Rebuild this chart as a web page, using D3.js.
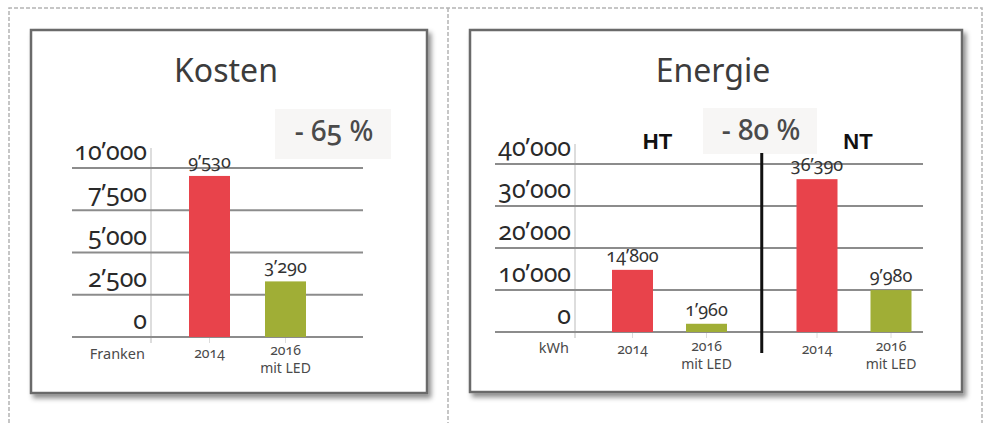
<!DOCTYPE html>
<html><head><meta charset="utf-8">
<script src="https://cdn.jsdelivr.net/npm/d3@7"></script>
<style>
html,body{margin:0;padding:0;background:#fff;}
svg{display:block;font-family:"Noto Sans","Open Sans",sans-serif;}
.num{font-variant-numeric:oldstyle-nums;font-feature-settings:"onum" 1;}
</style></head>
<body><svg id="c" width="986" height="423"></svg>
<script>
// ---------- data ----------
const kostenTitle = "Kosten";
const kostenUnit = "Franken";
const kostenCategories = [["2014"], ["2016", "mit LED"]];
const kostenValues = [9530, 3290];
const kostenTicks = [0, 2500, 5000, 7500, 10000];
const kostenChange = "- 65 %";

const energieTitle = "Energie";
const energieUnit = "kWh";
const energieGroups = ["HT", "NT"];
const energieCategories = [["2014"], ["2016", "mit LED"]];
const energieHT = [14800, 1960];
const energieNT = [36390, 9980];
const energieTicks = [0, 10000, 20000, 30000, 40000];
const energieChange = "- 80 %";

const barColors = ["#e8434b", "#a0ae36"];

// ---------- helpers ----------
const loc = d3.formatLocale({decimal: ".", thousands: "\u2019", grouping: [3], currency: ["", ""]});
const fmt = loc.format(",");
const svg = d3.select("#c");

const defs = svg.append("defs");
const f = defs.append("filter").attr("id", "sh").attr("x", "-10%").attr("y", "-10%").attr("width", "125%").attr("height", "125%");
f.append("feDropShadow").attr("dx", 3).attr("dy", 4).attr("stdDeviation", 2.5).attr("flood-color", "#000").attr("flood-opacity", 0.45);

// dashed outer frame
const dash = svg.append("g").attr("fill", "none").attr("stroke", "#b4b4b4").attr("stroke-width", 1.5).attr("stroke-dasharray", "4,2");
dash.append("path").attr("d", "M9,423 V8 H982 V423");
dash.append("line").attr("x1", 448).attr("x2", 448).attr("y1", 8).attr("y2", 423);

function panel(x0, x1, y0, y1) {
  svg.append("rect").attr("x", x0).attr("y", y0).attr("width", x1 - x0).attr("height", y1 - y0)
    .attr("fill", "#fff").attr("stroke", "#6a6a6a").attr("stroke-width", 2.5).attr("filter", "url(#sh)");
}

function chart(opt) {
  const g = svg.append("g");
  const y = d3.scaleLinear().domain([opt.ticks[0], opt.ticks[opt.ticks.length - 1]]).range(opt.yRange);
  // title
  g.append("text").attr("x", opt.titleX).attr("y", 82).attr("text-anchor", "middle")
    .attr("font-size", 32).attr("fill", "#3c3c3c").text(opt.title);
  // change box
  g.append("rect").attr("x", opt.box[0]).attr("y", opt.box[1]).attr("width", opt.box[2]).attr("height", opt.box[3])
    .attr("fill", "#f7f6f5");
  g.append("text").attr("class", "num").attr("x", opt.box[0] + opt.box[2] / 2 + 1).attr("y", opt.box[1] + 32)
    .attr("text-anchor", "middle").attr("font-size", 28).attr("font-weight", 500).attr("fill", "#4a4a4a").text(opt.change);
  // vertical axis line
  g.append("line").attr("x1", opt.axisX).attr("x2", opt.axisX).attr("y1", y.range()[1] - 20).attr("y2", y.range()[0] + 6)
    .attr("stroke", "#d2d2d2").attr("stroke-width", 1.5);
  // gridlines
  g.selectAll(".grid").data(opt.ticks).join("line")
    .attr("x1", opt.gridX[0]).attr("x2", opt.gridX[1])
    .attr("y1", d => y(d)).attr("y2", d => y(d))
    .attr("stroke", "#8c8c8c").attr("stroke-width", 2);
  // tick labels
  g.selectAll(".tl").data(opt.ticks).join("text").attr("class", "num")
    .attr("x", opt.axisX - 4).attr("y", d => y(d) - 8).attr("text-anchor", "end")
    .attr("font-size", 25).attr("fill", "#2a2a2a").text(d => fmt(d));
  // unit
  g.append("text").attr("x", opt.axisX - 6).attr("y", opt.catY).attr("text-anchor", "end")
    .attr("font-size", 14.5).attr("fill", "#4a4a4a").text(opt.unit);
  return {g, y};
}

function bars(g, y, centers, values, width) {
  g.selectAll(null).data(values).join("rect")
    .attr("x", (d, i) => centers[i] - width / 2).attr("width", width)
    .attr("y", d => y(d)).attr("height", d => y(0) - y(d))
    .attr("fill", (d, i) => barColors[i]);
  g.selectAll(null).data(values).join("text").attr("class", "num")
    .attr("x", (d, i) => centers[i]).attr("y", d => y(d) - 8).attr("text-anchor", "middle")
    .attr("font-size", 18).attr("fill", "#333").text(d => fmt(d));
  g.selectAll(null).data(centers).join("line")
    .attr("x1", d => d).attr("x2", d => d).attr("y1", y(0) + 1).attr("y2", y(0) + 6)
    .attr("stroke", "#dcdcdc").attr("stroke-width", 1);
}

function cats(g, centers, labels, catY) {
  labels.forEach((lines, i) => {
    const t = g.append("text").attr("class", "num").attr("x", centers[i]).attr("text-anchor", "middle")
      .attr("font-size", 14).attr("fill", "#4a4a4a");
    const base = lines.length > 1 ? catY - 3 : catY;
    lines.forEach((s, j) => t.append("tspan").attr("x", centers[i]).attr("y", base + j * 18).text(s));
  });
}

// ---------- Kosten ----------
panel(31, 427, 30, 393);
{
  const {g, y} = chart({title: kostenTitle, titleX: 226, unit: kostenUnit, ticks: kostenTicks,
    yRange: [337, 168], gridX: [72, 363], axisX: 151, catY: 359, box: [275, 109, 116, 50], change: kostenChange});
  const x = d3.scalePoint().domain(d3.range(kostenValues.length)).range([209.5, 285.5]);
  const centers = kostenValues.map((d, i) => x(i));
  bars(g, y, centers, kostenValues, 41);
  cats(g, centers, kostenCategories, 358);
}

// ---------- Energie ----------
panel(470, 962, 30, 392);
{
  const {g, y} = chart({title: energieTitle, titleX: 713, unit: energieUnit, ticks: energieTicks,
    yRange: [332, 164], gridX: [495, 923], axisX: 575, catY: 353, box: [703, 108, 114, 46], change: energieChange});
  const gx = d3.scalePoint().domain(energieGroups).range([669.5, 854]);
  const ix = d3.scalePoint().domain(d3.range(2)).range([-37, 37]);
  [energieHT, energieNT].forEach((vals, k) => {
    const centers = vals.map((d, i) => gx(energieGroups[k]) + ix(i));
    bars(g, y, centers, vals, 41);
    cats(g, centers, energieCategories, 354);
  });
  // group labels
  g.selectAll(".grp").data(energieGroups).join("text")
    .attr("x", (d, i) => gx(d) + (i === 0 ? -12 : 4)).attr("y", 149).attr("text-anchor", "middle")
    .attr("font-family", "'Liberation Sans',Arial,sans-serif").attr("font-weight", "bold")
    .attr("font-size", 22).attr("fill", "#111").text(d => d);
  // separator
  const sx = (gx("HT") + ix(1) + gx("NT") + ix(0)) / 2;
  g.append("line").attr("x1", sx).attr("x2", sx).attr("y1", 153).attr("y2", 353)
    .attr("stroke", "#111").attr("stroke-width", 3);
}
</script></body></html>
